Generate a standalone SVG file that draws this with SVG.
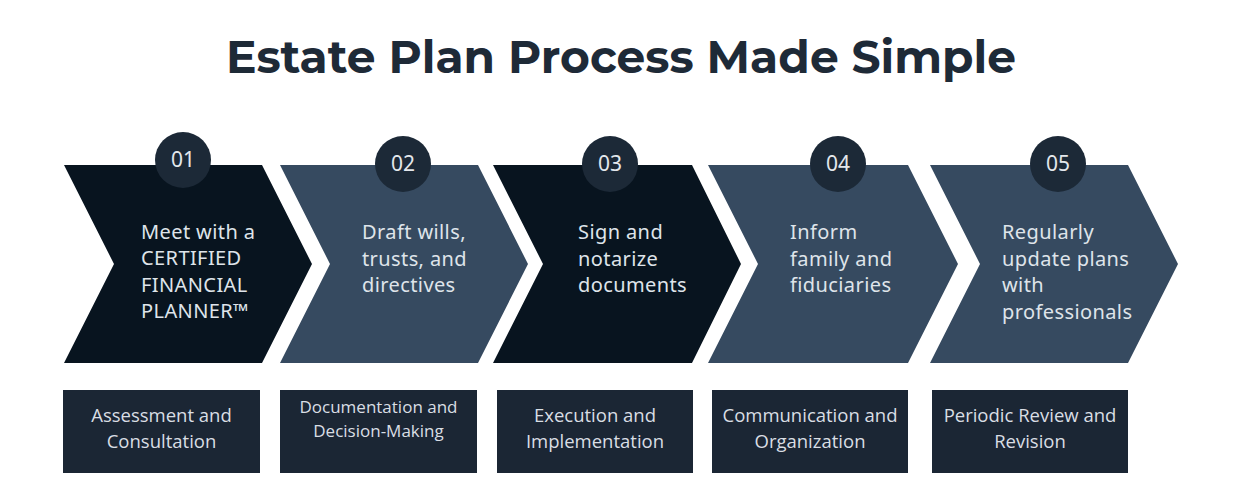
<svg xmlns="http://www.w3.org/2000/svg" width="1242" height="503" viewBox="0 0 1242 503">
<style>
.title{font-family:Montserrat,"Inter","Liberation Sans",sans-serif;font-weight:700;font-size:46px;fill:#1e2a37}
.dark{fill:#08141f}
.slate{fill:#364a60}
.circ{fill:#1c2937}
.num{font-family:"Noto Sans","Liberation Sans",sans-serif;font-size:21px;fill:#e3e7ec;text-anchor:middle}
.ct{font-family:"Noto Sans","Liberation Sans",sans-serif;font-size:20px;letter-spacing:0.4px;fill:#dfe4ea}
.box{fill:#1b2634}
.bt{font-family:"Open Sans","Liberation Sans",sans-serif;font-size:18.5px;fill:#d9dee4;text-anchor:middle}
.sm{font-size:17px}
</style>
<rect width="1242" height="503" fill="#ffffff"/>
<text class="title" x="621" y="73" text-anchor="middle" textLength="790" lengthAdjust="spacingAndGlyphs">Estate Plan Process Made Simple</text>

<g id="step1">
<path class="dark" d="M64,165 L262,165 L312,264 L262,363 L64,363 L114,264 Z"/>
<circle class="circ" cx="183" cy="160" r="28"/>
<text class="num" x="183" y="167">01</text>
<text class="ct"><tspan x="141" y="239">Meet with a</tspan><tspan x="141" y="265">CERTIFIED</tspan><tspan x="141" y="292">FINANCIAL</tspan><tspan x="141" y="318">PLANNER™</tspan></text>
</g>

<g id="step2">
<path class="slate" d="M280,165 L478,165 L528,264 L478,363 L280,363 L330,264 Z"/>
<circle class="circ" cx="403" cy="164" r="28"/>
<text class="num" x="403" y="171">02</text>
<text class="ct"><tspan x="362" y="239">Draft wills,</tspan><tspan x="362" y="266">trusts, and</tspan><tspan x="362" y="292">directives</tspan></text>
</g>

<g id="step3">
<path class="dark" d="M493,165 L692,165 L741,264 L692,363 L493,363 L543,264 Z"/>
<circle class="circ" cx="610" cy="164" r="28"/>
<text class="num" x="610" y="171">03</text>
<text class="ct"><tspan x="578" y="239">Sign and</tspan><tspan x="578" y="266">notarize</tspan><tspan x="578" y="292">documents</tspan></text>
</g>

<g id="step4">
<path class="slate" d="M708,165 L908,165 L958,264 L908,363 L708,363 L758,264 Z"/>
<circle class="circ" cx="838" cy="164" r="28"/>
<text class="num" x="838" y="171">04</text>
<text class="ct"><tspan x="790" y="239">Inform</tspan><tspan x="790" y="266">family and</tspan><tspan x="790" y="292">fiduciaries</tspan></text>
</g>

<g id="step5">
<path class="slate" d="M930,165 L1128,165 L1178,264 L1128,363 L930,363 L980,264 Z"/>
<circle class="circ" cx="1058" cy="164" r="28"/>
<text class="num" x="1058" y="171">05</text>
<text class="ct"><tspan x="1002" y="239">Regularly</tspan><tspan x="1002" y="266">update plans</tspan><tspan x="1002" y="292">with</tspan><tspan x="1002" y="319">professionals</tspan></text>
</g>

<g id="box1">
<rect class="box" x="63" y="390" width="197" height="83"/>
<text class="bt"><tspan x="161.5" y="422">Assessment and</tspan><tspan x="161.5" y="448">Consultation</tspan></text>
</g>
<g id="box2">
<rect class="box" x="280" y="390" width="197" height="83"/>
<text class="bt sm"><tspan x="378.5" y="413">Documentation and</tspan><tspan x="378.5" y="437">Decision-Making</tspan></text>
</g>
<g id="box3">
<rect class="box" x="497" y="390" width="196" height="83"/>
<text class="bt"><tspan x="595" y="422">Execution and</tspan><tspan x="595" y="448">Implementation</tspan></text>
</g>
<g id="box4">
<rect class="box" x="712" y="390" width="196" height="83"/>
<text class="bt"><tspan x="810" y="422">Communication and</tspan><tspan x="810" y="448">Organization</tspan></text>
</g>
<g id="box5">
<rect class="box" x="932" y="390" width="196" height="83"/>
<text class="bt"><tspan x="1030" y="422">Periodic Review and</tspan><tspan x="1030" y="448">Revision</tspan></text>
</g>
</svg>
